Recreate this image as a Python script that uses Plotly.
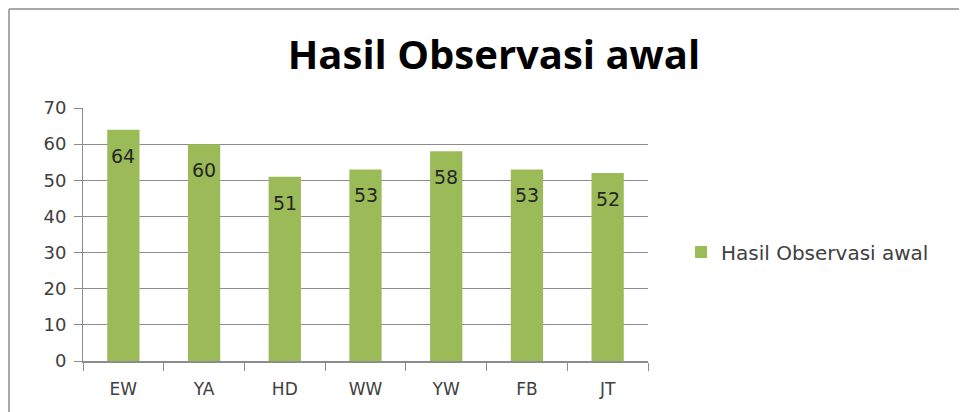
import plotly.graph_objects as go

categories = ["EW", "YA", "HD", "WW", "YW", "FB", "JT"]
values = [64, 60, 51, 53, 58, 53, 52]
series_name = "Hasil Observasi awal"
title_text = "Hasil Observasi awal"

OFF = 8  # default page body margin
W, H = 967 - OFF, 412 - OFF
L, R, T, B = 83 - OFF, 648 - OFF, 108 - OFF, 361 - OFF
pw, ph = R - L, B - T

def px(x):
    return (x - OFF - L) / pw

def py(y):
    return (B - (y - OFF)) / ph

fig = go.Figure()
fig.add_trace(go.Bar(
    x=categories, y=values, name=series_name,
    marker=dict(color="#9BBB59", line=dict(width=0)),
    showlegend=True, hoverinfo="x+y",
))
for c, v in zip(categories, values):
    fig.add_annotation(x=c, y=v, text=str(v), showarrow=False, yanchor="middle",
                       yshift=-26, font=dict(family="DejaVu Sans", size=19, color="#262626"))

fig.update_layout(
    width=W, height=H,
    margin=dict(l=L, r=W - R, t=T, b=H - B),
    paper_bgcolor="white", plot_bgcolor="white",
    bargap=0.6,
    title=dict(text="<b>" + title_text + "</b>", x=(494 - OFF) / W, xanchor="center",
               y=1 - (55 - OFF) / H, yanchor="middle",
               font=dict(family="Open Sans", size=40, color="#000000")),
    legend=dict(x=px(681), y=py(252), xanchor="left", yanchor="middle",
                font=dict(family="DejaVu Sans", size=20, color="#404040"),
                bgcolor="rgba(0,0,0,0)"),
    font=dict(family="DejaVu Sans", color="#404040"),
    shapes=[
        dict(type="line", xref="paper", yref="paper", x0=px(9), x1=px(970), y0=py(9), y1=py(9),
             line=dict(color="#8c8c8c", width=1.5)),
        dict(type="line", xref="paper", yref="paper", x0=px(9), x1=px(9), y0=py(9), y1=py(415),
             line=dict(color="#8c8c8c", width=1.5)),
    ],
)
fig.update_yaxes(range=[0, 70], dtick=10, showgrid=True, gridcolor="#8c8c8c", gridwidth=1,
                 showline=True, linecolor="#8c8c8c", linewidth=1,
                 ticks="outside", ticklen=8, tickcolor="#8c8c8c", ticklabelstandoff=4,
                 tickfont=dict(family="DejaVu Sans", size=18, color="#404040"),
                 zeroline=False)
fig.update_xaxes(showline=True, linecolor="#8c8c8c", linewidth=1.5,
                 ticks="outside", ticklen=8, tickcolor="#8c8c8c", tickson="boundaries",
                 ticklabelstandoff=12,
                 tickfont=dict(family="DejaVu Sans", size=17, color="#404040"))

fig.write_html("out.html")
